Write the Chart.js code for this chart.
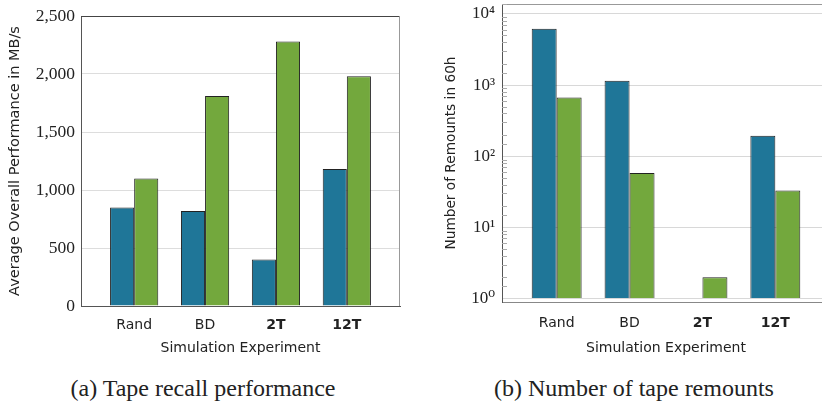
<!DOCTYPE html>
<html>
<head>
<meta charset="utf-8">
<script src="https://cdn.jsdelivr.net/npm/chart.js@4"></script>
<style>
    html, body { margin: 0; padding: 0; background: #fff; overflow: hidden; }
    body { width: 822px; height: 403px; position: relative; }
    .panel { position: absolute; top: 0; height: 360px; }
    .caption {
        position: absolute; top: 375px; width: 410px; text-align: center;
        font-family: "Liberation Serif", "DejaVu Serif", serif; font-size: 24px; color: #222;
    }
</style>
</head>
<body>
<div class="panel" style="left:0; width:410px;"><canvas id="perfChart"></canvas></div>
<div class="panel" style="left:410px; width:430px;"><canvas id="remountChart"></canvas></div>
<div class="caption" style="left:-2px;">(a) Tape recall performance</div>
<div class="caption" style="left:429px;">(b) Number of tape remounts</div>
<script>
    // Datos
    const experiments = ['Rand', 'BD', '2T', '12T'];
    const perfBlue = [850, 820, 400, 1180];
    const perfGreen = [1100, 1810, 2280, 1980];
    const remountBlue = [6200, 1150, null, 195];
    const remountGreen = [670, 58, 2, 33];

    const blue = '#1f7698';
    const green = '#73a83d';
    const sans = '"DejaVu Sans", sans-serif';
    const serif = '"Liberation Serif", "DejaVu Serif", serif';
    const superDigits = { '0': '⁰', '1': '¹', '2': '²', '3': '³', '4': '⁴', '5': '⁵', '6': '⁶', '7': '⁷', '8': '⁸', '9': '⁹', '-': '⁻' };

    function toPoints(values) {
        return values.map((v, i) => ({ x: i, y: v }));
    }

    // Marco alrededor del área del gráfico (arriba y derecha)
    const framePlugin = {
        id: 'frame',
        afterDraw(chart, args, opts) {
            const { ctx, chartArea: a } = chart;
            ctx.save();
            ctx.lineWidth = 1;
            ctx.strokeStyle = opts.topColor || '#555';
            ctx.beginPath();
            ctx.moveTo(a.left, a.top + 0.5);
            ctx.lineTo(a.right, a.top + 0.5);
            ctx.stroke();
            ctx.strokeStyle = opts.rightColor || '#999';
            ctx.beginPath();
            ctx.moveTo(a.right - 0.5, a.top);
            ctx.lineTo(a.right - 0.5, a.bottom);
            ctx.stroke();
            ctx.restore();
        }
    };

    // Marcas menores del eje logarítmico (dentro del área)
    const minorTicksPlugin = {
        id: 'minorTicks',
        afterDraw(chart) {
            const scale = chart.scales.y;
            if (scale.type !== 'logarithmic') return;
            const { ctx, chartArea: a } = chart;
            ctx.save();
            ctx.strokeStyle = '#aaa';
            ctx.lineWidth = 1;
            scale.ticks.forEach(t => {
                const exp = Math.log10(t.value);
                if (Math.abs(exp - Math.round(exp)) < 1e-9) return;
                const py = Math.round(scale.getPixelForValue(t.value)) + 0.5;
                if (py < a.top || py > a.bottom) return;
                ctx.beginPath();
                ctx.moveTo(a.left, py);
                ctx.lineTo(a.left + 5, py);
                ctx.stroke();
            });
            ctx.restore();
        }
    };

    function xScale(height, pad) {
        return {
            type: 'linear',
            offset: false,
            min: -0.75,
            max: experiments.length - 0.25,
            afterBuildTicks: scale => { scale.ticks = experiments.map((_, i) => ({ value: i })); },
            afterFit: scale => { scale.height = height; },
            grid: { display: false, drawTicks: false, offset: false },
            border: { color: '#555', width: 1 },
            ticks: {
                padding: pad,
                color: '#222',
                callback: value => experiments[value],
                font: ctx => ({ family: sans, size: 14, weight: ctx.index >= 2 ? 'bold' : 'normal' })
            },
            title: {
                display: true,
                text: 'Simulation Experiment',
                color: '#222',
                font: { family: sans, size: 14 },
                padding: { top: 0, bottom: 3 }
            }
        };
    }

    function barDatasets(blueValues, greenValues, extra) {
        return [
            Object.assign({ data: toPoints(blueValues), backgroundColor: blue, borderColor: '#222', borderWidth: 1 }, extra),
            Object.assign({ data: toPoints(greenValues), backgroundColor: green, borderColor: '#222', borderWidth: 1 }, extra)
        ];
    }

    const commonOptions = {
        responsive: false,
        animation: false,
        plugins: { legend: { display: false }, tooltip: { enabled: false } }
    };

    function makeCanvas(id, w, h) {
        const c = document.getElementById(id);
        c.width = w; c.height = h;
        c.style.width = w + 'px'; c.style.height = h + 'px';
        return c;
    }

    new Chart(makeCanvas('perfChart', 410, 360), {
        type: 'bar',
        data: { datasets: barDatasets(perfBlue, perfGreen, { categoryPercentage: 0.68, barPercentage: 1 }) },
        options: Object.assign({}, commonOptions, {
            layout: { padding: { left: 7, top: 16, right: 10, bottom: 0 } },
            scales: {
                x: xScale(54, 11),
                y: {
                    min: 0,
                    max: 2500,
                    afterFit: scale => { scale.width = 74; scale.paddingTop = 0; scale.paddingBottom = 0; },
                    grid: { color: '#dddddd', drawTicks: false },
                    border: { color: '#555', width: 1 },
                    ticks: {
                        stepSize: 500,
                        padding: 6,
                        color: '#222',
                        font: { family: serif, size: 17.5 },
                        callback: value => value.toLocaleString('en-US')
                    },
                    title: {
                        display: true,
                        text: 'Average Overall Performance in MB/s',
                        color: '#222',
                        font: { family: sans, size: 14.5 },
                        padding: { top: 0, bottom: 0 }
                    }
                }
            },
            plugins: Object.assign({}, commonOptions.plugins, { frame: { topColor: '#444', rightColor: '#999' } })
        }),
        plugins: [framePlugin]
    });

    new Chart(makeCanvas('remountChart', 430, 360), {
        type: 'bar',
        data: { datasets: barDatasets(remountBlue, remountGreen, { categoryPercentage: 0.685, barPercentage: 1, base: 1 }) },
        options: Object.assign({}, commonOptions, {
            layout: { padding: { left: 33, top: 4, right: 10, bottom: 0 } },
            scales: {
                x: Object.assign(xScale(58, 13), { border: { color: '#888', width: 1 } }),
                y: {
                    type: 'logarithmic',
                    min: 0.895,
                    max: 13800,
                    afterFit: scale => { scale.width = 59; scale.paddingTop = 0; scale.paddingBottom = 0; },
                    grid: {
                        drawTicks: false,
                        color: ctx => {
                            const exp = Math.log10(ctx.tick.value);
                            return Math.abs(exp - Math.round(exp)) < 1e-9 ? '#d8d8d8' : 'rgba(0,0,0,0)';
                        }
                    },
                    border: { color: '#555', width: 1 },
                    ticks: {
                        padding: 7,
                        color: '#222',
                        autoSkip: false,
                        font: { family: serif, size: 17 },
                        callback: value => {
                            const exp = Math.log10(value);
                            if (Math.abs(exp - Math.round(exp)) > 1e-9) return '';
                            return '10' + String(Math.round(exp)).split('').map(d => superDigits[d]).join('');
                        }
                    },
                    title: {
                        display: true,
                        text: 'Number of Remounts in 60h',
                        color: '#222',
                        font: { family: sans, size: 13.7 },
                        padding: { top: 0, bottom: 0 }
                    }
                }
            },
            plugins: Object.assign({}, commonOptions.plugins, { frame: { topColor: '#999', rightColor: '#999' } })
        }),
        plugins: [framePlugin, minorTicksPlugin]
    });
</script>
</body>
</html>
